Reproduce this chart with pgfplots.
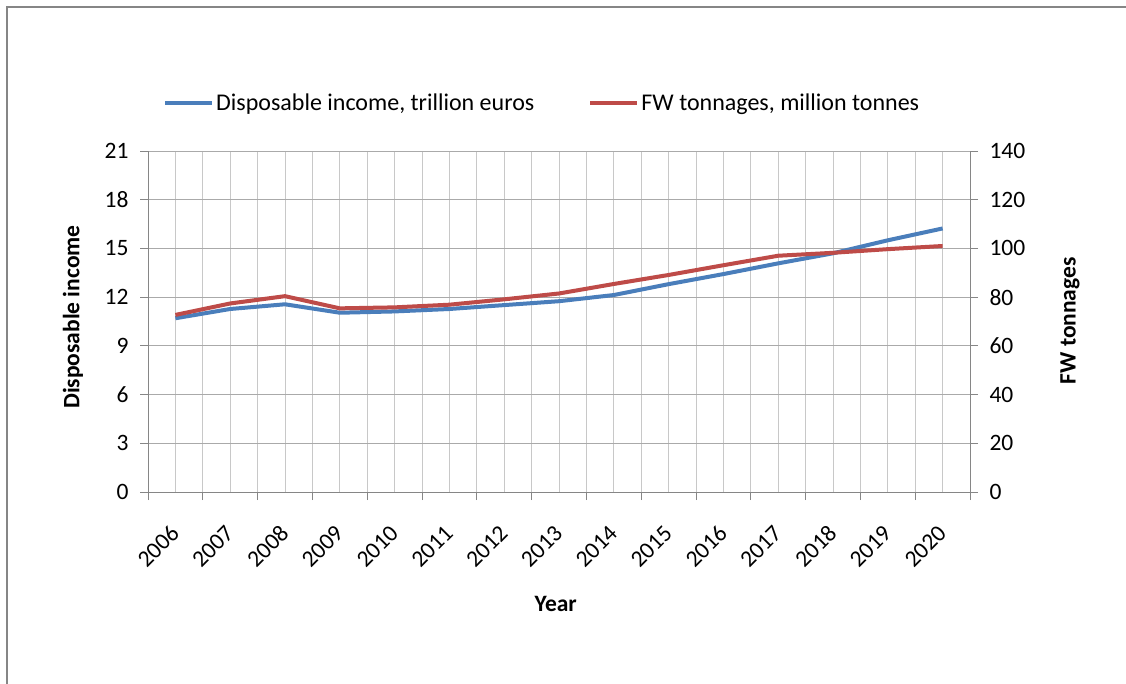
\documentclass[border=0pt]{standalone}
\usepackage{pgfplots}
\pgfplotsset{compat=1.18}
\usepackage{fontspec}
\setmainfont{Carlito}
\definecolor{incblue}{HTML}{4A7EBB}
\definecolor{fwred}{HTML}{BE4B48}
\definecolor{gridgray}{HTML}{C8C8C8}
\definecolor{axgray}{HTML}{868686}
\begin{document}
\begin{tikzpicture}
\useasboundingbox (0pt,0pt) rectangle (1126pt,683pt);
\fill[white] (0pt,0pt) rectangle (1126pt,683pt);
\draw[axgray, line width=1.5pt] (7pt,-2pt) -- (7pt,676pt) -- (1128pt,676pt);
\pgfplotsset{
  common/.style={
    at={(148pt,191pt)}, anchor=south west,
    scale only axis, width=822pt, height=341pt,
    xmin=-0.5, xmax=14.5,
    /pgf/number format/assume math mode=true,
    tick label style={font=\fontsize{23.5}{27}\selectfont, black},
    tick align=outside,
    major tick length=8pt, minor tick length=8pt,
    every tick/.style={axgray, line width=0.8pt},
    axis line style={axgray, line width=0.8pt},
  }
}
\begin{axis}[common,
  ymin=0, ymax=21, ytick={0,3,...,21},
  axis y line*=left, axis x line*=bottom,
  xtick={0,...,14},
  xticklabels={2006,2007,2008,2009,2010,2011,2012,2013,2014,2015,2016,2017,2018,2019,2020},
  minor xtick={-0.5,0.5,...,14.5},
  major x tick style={draw=none},
  xmajorgrids, xminorgrids, ymajorgrids,
  major grid style={gridgray, line width=0.8pt},
  minor grid style={gridgray, line width=0.8pt},
  y grid style={color=axgray!70, line width=0.8pt},
  yticklabel style={xshift=-8pt},
  xticklabel style={xshift=2pt, yshift=-27pt, rotate=45, anchor=east},
  every axis y label/.style={at={(axis description cs:-0.0912,0.513)}, rotate=90, anchor=center,
    font=\fontsize{23.5}{27}\selectfont\bfseries},
  ylabel={Disposable income},
  every axis x label/.style={at={(axis description cs:0.496,-0.328)}, anchor=center,
    font=\fontsize{23.5}{27}\selectfont\bfseries},
  xlabel={Year},
  legend columns=2,
  legend style={at={(axis description cs:0.0146,1.141)}, anchor=west, draw=none, fill=none,
    font=\fontsize{24}{28}\selectfont,
    /tikz/every even column/.append style={column sep=52pt},
    nodes={inner sep=2pt}},
  legend image code/.code={\draw[#1] (0pt,0pt) -- (47pt,0pt);},
]
\addplot[incblue, line width=4pt, line join=round] coordinates {
(0,10.70) (1,11.27) (2,11.56) (3,11.04) (4,11.12) (5,11.27) (6,11.51) (7,11.75)
(8,12.13) (9,12.80) (10,13.42) (11,14.08) (12,14.70) (13,15.50) (14,16.23)};
\addlegendentry{Disposable income, trillion euros}
\addlegendimage{fwred, line width=4pt}
\addlegendentry{FW tonnages, million tonnes}
\end{axis}
\begin{axis}[common,
  ymin=0, ymax=140, ytick={0,20,...,140},
  axis y line*=right, axis x line=none,
  yticklabel style={xshift=8pt},
  every axis y label/.style={at={(axis description cs:1.1217,0.502)}, rotate=90, anchor=center,
    font=\fontsize{23.5}{27}\selectfont\bfseries},
  ylabel={FW tonnages},
]
\addplot[fwred, line width=4pt, line join=round] coordinates {
(0,72.7) (1,77.4) (2,80.4) (3,75.4) (4,75.8) (5,76.9) (6,79.1) (7,81.5)
(8,85.4) (9,89.1) (10,93.1) (11,97.0) (12,98.2) (13,99.7) (14,101.0)};
\end{axis}
\end{tikzpicture}
\end{document}
